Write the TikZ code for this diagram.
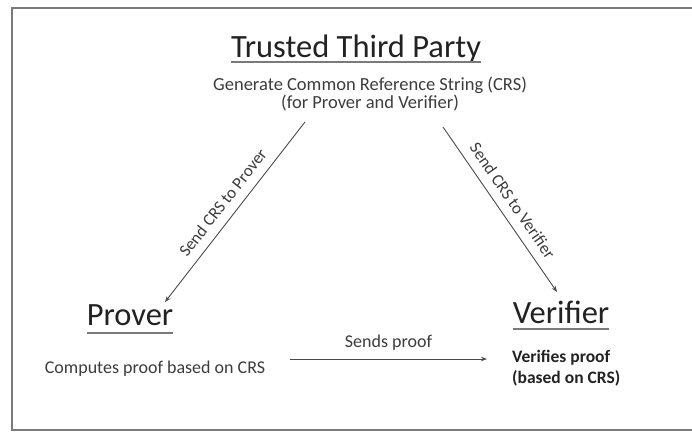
\documentclass[tikz,border=0pt]{standalone}
\usepackage{fontspec}
\setmainfont{Carlito}
\usetikzlibrary{arrows.meta}
\definecolor{frame}{HTML}{7A7A7A}
\definecolor{ink}{HTML}{222222}
\definecolor{body}{HTML}{3C3C3C}
\definecolor{wire}{HTML}{4A4A4A}
\tikzset{
  heading/.style={anchor=base, inner sep=0pt, text=ink, font=\fontsize{32.5}{36}\selectfont},
  ruler/.style={draw=frame, line width=1.6pt},
  note/.style={text=body, font=\fontsize{18}{18}\selectfont, inner sep=0pt},
  flow/.style={draw=wire, line width=0.9pt, -{Stealth[length=6pt,width=4.5pt]}},
  tag/.style={text=body, font=\fontsize{17}{18}\selectfont, sloped, inner sep=0pt}
}
\begin{document}
\begin{tikzpicture}[x=1pt,y=-1pt]
\useasboundingbox (0,0) rectangle (692,432);
% outer frame (open on the right)
\draw[draw=frame, line width=1.6pt] (692,8) -- (12,8) -- (12,430) -- (692,430);

% trusted third party
\node[heading] (ttp) at (356,57) {Trusted Third Party};
\draw[ruler] ([yshift=-5pt]ttp.base west) -- ([yshift=-5pt]ttp.base east);
\node[note, align=center, anchor=base, font=\fontsize{18.5}{16}\selectfont] (gen) at (370,108)
  {Generate Common Reference String (CRS)\\(for Prover and Verifier)};

% prover
\node[heading] (prover) at (130,325) {Prover};
\draw[ruler] ([yshift=-8pt]prover.base west) -- ([yshift=-8pt]prover.base east);
\node[note, anchor=base] (comp) at (155,373) {Computes proof based on CRS};

% verifier
\node[heading] (verifier) at (561,323) {Verifier};
\draw[ruler] ([yshift=-6pt]verifier.base west) -- ([yshift=-6pt]verifier.base east);
\node[note, anchor=base west, align=left, text=ink,
      font=\fontsize{17.5}{21}\selectfont\bfseries] (check) at (512,383)
  {Verifies proof\\(based on CRS)};

% connector end points
\coordinate (gl) at (305,122);
\coordinate (pt) at (165,302);
\coordinate (gr) at (443,127);
\coordinate (vt) at (557,292);
\coordinate (cs) at (290,359);
\coordinate (ce) at (487,359);

\draw[flow] (gl) -- node[tag, above=9pt, pos=0.5] (l1) {Send CRS to Prover} (pt);
\draw[flow] (gr) -- node[tag, above=9pt, pos=0.5] (l2) {Send CRS to Verifier} (vt);
\draw[flow] (cs) -- node[note, above=8pt] (l3) {Sends proof} (ce);
\end{tikzpicture}
\end{document}
